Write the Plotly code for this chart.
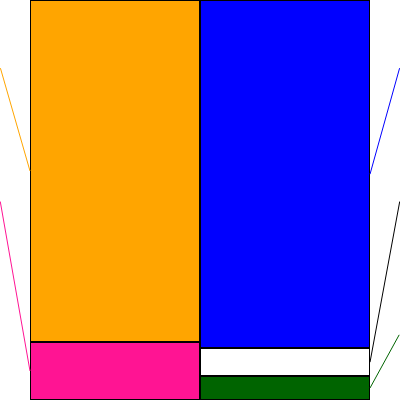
import plotly.graph_objects as go

# balance sheet style chart, shares in percent of each column
columns = ["assets", "liabilities"]
current_assets = [85.5, 0]
fixed_assets = [14.5, 0]
liabilities = [0, 87.1]
other = [0, 6.9]
net_assets = [0, 6.0]

series = [
    ("fixed assets", fixed_assets, "#FF1493"),
    ("current assets", current_assets, "#FFA500"),
    ("net assets", net_assets, "#006400"),
    ("other", other, "#FFFFFF"),
    ("liabilities", liabilities, "#0000FF"),
]

fig = go.Figure()
for name, vals, color in series:
    fig.add_trace(go.Bar(
        x=[0, 1], y=vals, name=name, width=1,
        marker=dict(color=color, line=dict(color="black", width=2)),
        showlegend=False,
    ))

# leader lines to the middle of each block, labels sit outside the view
leaders = [
    (0, current_assets[0], fixed_assets[0] + current_assets[0] / 2, 100 * 5 / 6, "#FFA500", "left"),
    (0, fixed_assets[0], fixed_assets[0] / 2, 50, "#FF1493", "left"),
    (1, liabilities[1], net_assets[1] + other[1] + liabilities[1] / 2, 100 * 5 / 6, "#0000FF", "right"),
    (1, other[1], net_assets[1] + other[1] / 2, 50, "black", "right"),
    (1, net_assets[1], net_assets[1] / 2, 100 / 6, "#006400", "right"),
]
for col, val, mid, tail, color, side in leaders:
    fig.add_annotation(
        x=-0.5 if side == "left" else 1.5, y=mid, xref="x", yref="y",
        ax=-0.6765 if side == "left" else 1.6765, ay=tail, axref="x", ayref="y",
        text="", showarrow=True, arrowhead=0, arrowwidth=1, arrowcolor=color,
    )

fig.update_layout(
    width=400, height=400,
    barmode="stack",
    margin=dict(l=30, r=30, t=0, b=0),
    plot_bgcolor="white", paper_bgcolor="white",
    xaxis=dict(range=[-0.5, 1.5], visible=False, fixedrange=True),
    yaxis=dict(range=[0, 100], visible=False, fixedrange=True),
)

# page has no body margin so the figure sits at the window corner
fig.write_html("out.html", config={"displayModeBar": False},
               post_script="document.body.style.margin='0';")
